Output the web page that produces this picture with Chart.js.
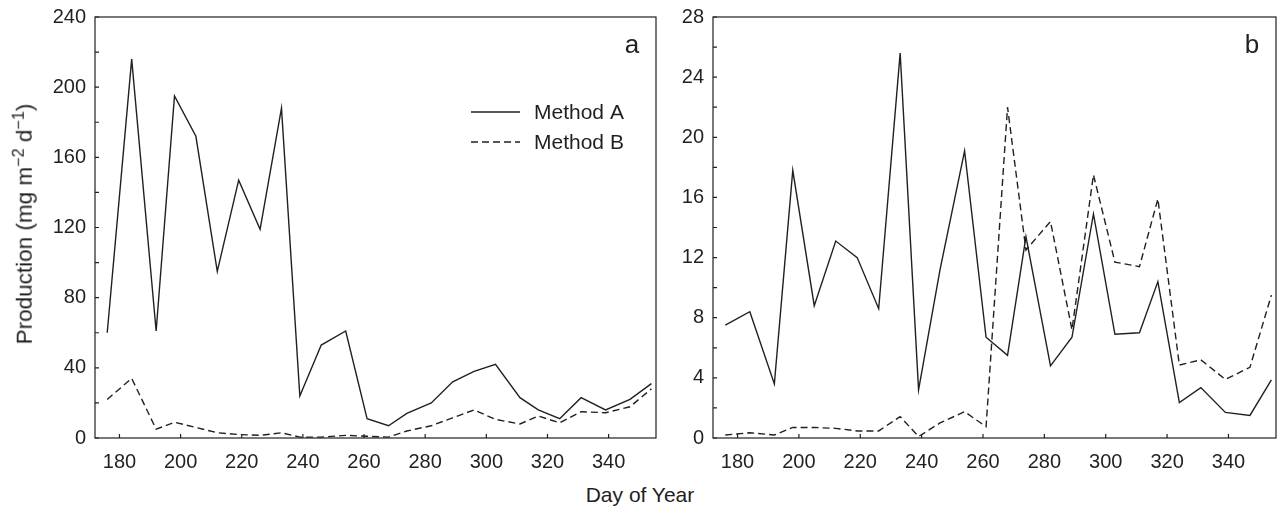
<!DOCTYPE html>
<html>
<head>
<meta charset="utf-8">
<title>Production by day of year</title>
<script src="https://cdn.jsdelivr.net/npm/chart.js@4.4.1/dist/chart.umd.min.js"></script>
<style>
  body { margin: 0; background: #fff; }
  #wrap { position: relative; width: 1277px; height: 517px; font-family: "Liberation Sans", Arial, sans-serif; color: #231f20; }
  canvas { position: absolute; top: 0; }
  #chart-a { left: 0; }
  #chart-b { left: 640px; }
  .y-title { position: absolute; left: 25px; top: 224px; transform: translate(-50%, -50%) rotate(-90deg); white-space: nowrap; font-size: 22.5px; line-height: 1; }
  .x-title { position: absolute; left: 640px; top: 494px; transform: translate(-50%, -50%); white-space: nowrap; font-size: 21px; line-height: 1; }
  sup { font-size: 0.72em; line-height: 0; }
</style>
</head>
<body>
<div id="wrap">
  <canvas id="chart-a" width="660" height="480"></canvas>
  <canvas id="chart-b" width="637" height="480"></canvas>
  <div class="y-title">Production (mg m<sup>&minus;2</sup> d<sup>&minus;1</sup>)</div>
  <div class="x-title">Day of Year</div>
</div>
<script>
// Data
const dayOfYear = [176, 184, 192, 198, 205, 212, 219, 226, 233, 239, 246, 254, 261, 268, 274, 282, 289, 296, 303, 311, 317, 324, 331, 339, 347, 354];

// panel a
const aMethodA = [60, 216, 61, 195, 172, 95, 147, 119, 188, 24, 53, 61, 11, 7, 14, 20, 32, 38, 42, 23, 16, 11, 23, 16, 22, 31];
const aMethodB = [22, 34, 5, 9, 6, 3, 2, 1.5, 3, 0.5, 0.5, 1.5, 1, 0.5, 4, 7, 11.5, 16, 10.6, 8, 12.5, 8.7, 15, 14.4, 17.8, 28];

// panel b
const bMethodA = [7.5, 8.4, 3.6, 17.8, 8.8, 13.1, 12, 8.6, 25.6, 3.2, 11.2, 19.1, 6.7, 5.5, 13.4, 4.8, 6.7, 14.9, 6.9, 7.0, 10.4, 2.35, 3.35, 1.7, 1.5, 3.86];
const bMethodB = [0.2, 0.35, 0.2, 0.7, 0.7, 0.64, 0.47, 0.47, 1.42, 0.1, 1.0, 1.75, 0.75, 22.0, 12.5, 14.4, 7.2, 17.5, 11.7, 11.4, 15.9, 4.85, 5.2, 3.9, 4.7, 9.5];

const seriesNames = ['Method A', 'Method B'];
const xRange = [172, 355.5];
const xTicks = [180, 200, 220, 240, 260, 280, 300, 320, 340];

const INK = '#231f20';
const FONT = '"Liberation Sans", Arial, sans-serif';

// frame, inward ticks, panel letter and legend
const framePlugin = {
    id: 'frame',
    afterDatasetsDraw(chart, args, opts) {
        const { ctx, chartArea: area, scales } = chart;
        ctx.save();
        ctx.strokeStyle = INK;
        ctx.lineWidth = 1.2;
        ctx.setLineDash([]);
        ctx.strokeRect(area.left, area.top, area.right - area.left, area.bottom - area.top);

        ctx.beginPath();
        scales.x.ticks.forEach(t => {
            const px = scales.x.getPixelForValue(t.value);
            ctx.moveTo(px, area.bottom);
            ctx.lineTo(px, area.bottom - 4);
        });
        scales.y.ticks.forEach(t => {
            const py = scales.y.getPixelForValue(t.value);
            ctx.moveTo(area.left, py);
            ctx.lineTo(area.left + 4, py);
        });
        ctx.stroke();

        // panel letter
        ctx.fillStyle = INK;
        ctx.font = '26px ' + FONT;
        ctx.textAlign = 'center';
        ctx.textBaseline = 'middle';
        ctx.fillText(opts.letter, area.right - 24, area.top + 29);

        // legend
        if (opts.legend) {
            ctx.font = '21px ' + FONT;
            ctx.textAlign = 'left';
            chart.data.datasets.forEach((ds, i) => {
                const y = area.top + 95 + i * 30;
                ctx.lineWidth = ds.borderWidth;
                ctx.setLineDash(ds.borderDash || []);
                ctx.beginPath();
                ctx.moveTo(area.right - 185, y);
                ctx.lineTo(area.right - 136, y);
                ctx.stroke();
                ctx.setLineDash([]);
                ctx.fillText(ds.label, area.right - 122, y + 1);
            });
        }
        ctx.restore();
    }
};

function makePanel(canvasId, methodA, methodB, yMax, yStep, yLabelStep, axisWidth, padRight, letter, legend) {
    const toPoints = vals => dayOfYear.map((d, i) => ({ x: d, y: vals[i] }));
    return new Chart(document.getElementById(canvasId), {
        type: 'line',
        data: {
            datasets: [
                { label: seriesNames[0], data: toPoints(methodA), borderColor: INK, borderWidth: 1.4, pointRadius: 0, tension: 0, fill: false },
                { label: seriesNames[1], data: toPoints(methodB), borderColor: INK, borderWidth: 1.4, borderDash: [7, 4], pointRadius: 0, tension: 0, fill: false }
            ]
        },
        options: {
            responsive: false,
            animation: false,
            events: [],
            layout: { padding: { top: 17, right: padRight, left: 0, bottom: 0 } },
            plugins: {
                legend: { display: false },
                tooltip: { enabled: false },
                frame: { letter: letter, legend: legend }
            },
            scales: {
                x: {
                    type: 'linear',
                    bounds: 'data',
                    min: xRange[0],
                    max: xRange[1],
                    grid: { display: false, drawTicks: false },
                    border: { display: false },
                    afterBuildTicks: scale => { scale.ticks = xTicks.map(v => ({ value: v })); },
                    ticks: {
                        autoSkip: false,
                        maxRotation: 0,
                        padding: 12,
                        color: INK,
                        font: { family: FONT, size: 20 }
                    },
                    afterFit: scale => {
                        scale.height = 42;
                        scale.paddingLeft = 0;
                        scale.paddingRight = 0;
                    }
                },
                y: {
                    type: 'linear',
                    bounds: 'data',
                    min: 0,
                    max: yMax,
                    grid: { display: false, drawTicks: false },
                    border: { display: false },
                    ticks: {
                        stepSize: yStep,
                        autoSkip: false,
                        padding: 9,
                        color: INK,
                        font: { family: FONT, size: 20 },
                        callback: v => (v % yLabelStep === 0 ? v : '')
                    },
                    afterFit: scale => {
                        scale.width = axisWidth;
                        scale.paddingTop = 0;
                        scale.paddingBottom = 0;
                    }
                }
            }
        },
        plugins: [framePlugin]
    });
}

makePanel('chart-a', aMethodA, aMethodB, 240, 20, 40, 95, 4, 'a', true);
makePanel('chart-b', bMethodA, bMethodB, 28, 2, 4, 73, 1, 'b', false);
</script>
</body>
</html>
